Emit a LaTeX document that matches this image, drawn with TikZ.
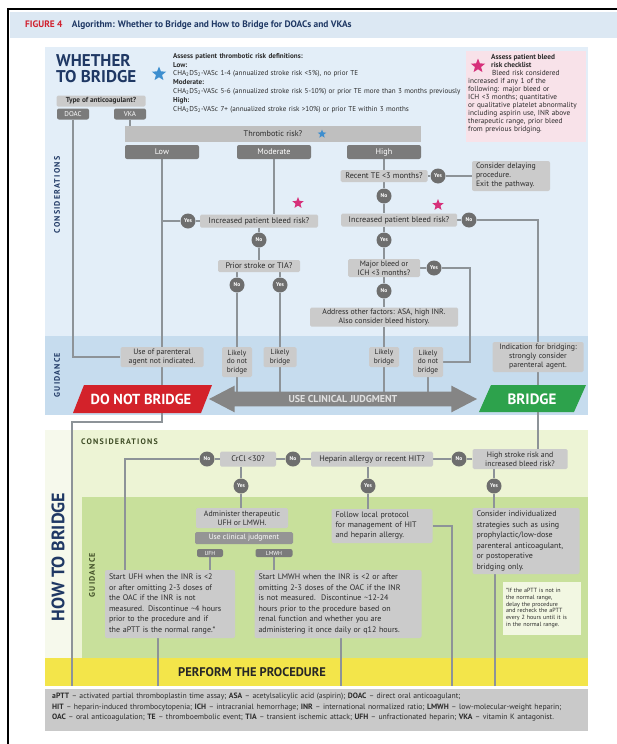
\documentclass[tikz,border=0pt]{standalone}
\usepackage{fontspec}
\setmainfont{PT Sans}
\newfontfamily\trackfont[LetterSpace=15]{PT Sans}
\usetikzlibrary{shapes,positioning}

\definecolor{ink}{HTML}{2B2B2B}
\definecolor{navy}{HTML}{1F3864}
\definecolor{titlered}{HTML}{D0202E}
\definecolor{headblue}{HTML}{DCE8F3}
\definecolor{paneblue}{HTML}{E3EEF8}
\definecolor{guideblue}{HTML}{C6DCEE}
\definecolor{pinkbg}{HTML}{F8E2E9}
\definecolor{boxgray}{HTML}{CBCBCB}
\definecolor{bargray}{HTML}{BFBFBF}
\definecolor{darkbox}{HTML}{7B7B7B}
\definecolor{circgray}{HTML}{6E6E6E}
\definecolor{wire}{HTML}{8D9398}
\definecolor{dnbred}{HTML}{D3222A}
\definecolor{brgreen}{HTML}{2DA24C}
\definecolor{arrowgray}{HTML}{858585}
\definecolor{greenlight}{HTML}{EDF4D5}
\definecolor{greenpale}{HTML}{F6F9EC}
\definecolor{greenguide}{HTML}{C8E09B}
\definecolor{procyellow}{HTML}{F3E54A}
\definecolor{legendgray}{HTML}{C9C9C9}
\definecolor{footbg}{HTML}{F2F7E2}
\definecolor{guidetext}{HTML}{3F4D26}
\definecolor{starblue}{HTML}{3D8ECF}
\definecolor{starpink}{HTML}{D6307A}

\newcommand{\fsz}[2]{\fontsize{#1}{#2}\selectfont}
\pgfdeclarelayer{panel}
\pgfdeclarelayer{wire}
\pgfsetlayers{panel,wire,main}

\begin{document}
\begin{tikzpicture}[x=1pt,y=-1pt]
\tikzstyle{every node}=[inner sep=1pt, text=ink, font=\fsz{8.2}{9.5}];
\tikzstyle{qbox}=[fill=boxgray, rounded corners=1.5pt, align=center];
\tikzstyle{textbox}=[fill=boxgray, rounded corners=2pt, align=left, inner xsep=4pt];
\tikzstyle{riskbox}=[fill=darkbox, text=white, rounded corners=2pt, minimum width=74pt, minimum height=14pt];
\tikzstyle{yesno}=[circle, fill=circgray, text=white, minimum size=15pt, inner sep=0pt, font=\fsz{5.5}{5.5}\bfseries];
\tikzstyle{link}=[draw=wire, line width=1.8pt];
\tikzstyle{sidelabel}=[rotate=90, font=\trackfont\fsz{8}{8}\bfseries, text=navy];
\tikzstyle{riskstar}=[star, star points=5, star point ratio=2.3, inner sep=0pt];

\useasboundingbox (0,0) rectangle (617,744);

\begin{pgfonlayer}{panel}
\fill[headblue] (10,12) rectangle (617,38);
\fill[paneblue] (45,47) rectangle (588,415);
\fill[guideblue] (45,336) rectangle (588,415);
\fill[pinkbg] (466,51) rectangle (586,142);
\fill[greenlight] (45,430) rectangle (588,686);
\fill[greenpale] (45,430) rectangle (71,686);
\fill[greenguide] (82,497) rectangle (588,658);
\fill[procyellow] (45,658) rectangle (588,686);
\fill[legendgray] (45,689) rectangle (588,731);
\draw[black, line width=2.5pt] (617,9) -- (8,9) -- (8,744);
\end{pgfonlayer}

\node[anchor=west, font=\fsz{9.4}{10}\bfseries, text=navy] (title) at (24,25)
  {\textcolor{titlered}{FIGURE 4}\quad Algorithm: Whether to Bridge and How to Bridge for DOACs and VKAs};

\node[anchor=north west, align=left, font=\fsz{17}{16}\bfseries, text=navy] (whether) at (55,53) {WHETHER\\TO BRIDGE};
\node[sidelabel] (considA) at (57,195) {CONSIDERATIONS};
\node[sidelabel] (guideA) at (57,375) {GUIDANCE};

\node[riskstar, fill=starblue, minimum size=15pt] (starA) at (159,74) {};
\node[anchor=north west, align=left, text width=330pt, font=\fsz{7.1}{8.8}] (defs) at (172,52)
  {\textbf{Assess patient thrombotic risk definitions:}\\
   \textbf{Low:}\\
   CHA\textsubscript{2}DS\textsubscript{2}-VASc 1-4 (annualized stroke risk <5\%), no prior TE\\
   \textbf{Moderate:}\\
   CHA\textsubscript{2}DS\textsubscript{2}-VASc 5-6 (annualized stroke risk 5-10\%) or prior TE more than 3 months previously\\
   \textbf{High:}\\
   CHA\textsubscript{2}DS\textsubscript{2}-VASc 7+ (annualized stroke risk >10\%) or prior TE within 3 months};

\node[riskstar, fill=starpink, minimum size=15pt] (starB) at (478,66) {};
\node[anchor=north west, align=left, font=\fsz{7.3}{8}\bfseries] (pinkhead) at (490,53) {Assess patient bleed\\risk checklist};
\node[anchor=north west, align=left, text width=118pt, font=\fsz{7.3}{8}] (pinkbody) at (467,69)
  {\hspace*{24pt}Bleed risk considered\\increased if any 1 of the\\following: major bleed or\\ICH <3 months; quantitative\\or qualitative platelet abnormality\\including aspirin use, INR above\\therapeutic range, prior bleed\\from previous bridging.};

\node[qbox, minimum width=89pt, minimum height=11pt, font=\fsz{7.3}{8}\bfseries] (type) at (101,101) {Type of anticoagulant?};
\node[riskbox, minimum width=32pt, minimum height=11pt, font=\fsz{7}{7}] (doac) at (73,114) {DOAC};
\node[riskbox, minimum width=32pt, minimum height=11pt, font=\fsz{7}{7}] (vka) at (130,114) {VKA};

\node[fill=bargray, minimum width=296pt, minimum height=16pt] (throm) at (273,134) {Thrombotic risk?};
\node[riskstar, fill=starblue, minimum size=9pt] (starC) at (322,134) {};
\node[riskbox] (low) at (162,152) {Low};
\node[riskbox] (moderate) at (274,152) {Moderate};
\node[riskbox] (high) at (384,152) {High};

\node[riskstar, fill=starpink, minimum size=12pt] (starD) at (298,203) {};
\node[qbox, minimum width=118pt, minimum height=13pt] (bleedm) at (259,221) {Increased patient bleed risk?};
\node[yesno] (ym1) at (188,221) {Yes};
\node[yesno] (nm1) at (259,240) {No};
\node[qbox, minimum width=82pt, minimum height=12pt] (prior) at (259,266) {Prior stroke or TIA?};
\node[yesno] (nm2) at (237,285) {No};
\node[yesno] (ym2) at (280,285) {Yes};

\node[qbox, minimum width=87pt, minimum height=12pt] (recent) at (384,176) {Recent TE <3 months?};
\node[yesno] (yh1) at (438,176) {Yes};
\node[textbox, text width=70pt, minimum height=30pt, font=\fsz{7.8}{9}] (delay) at (511,176) {Consider delaying\\procedure.\\Exit the pathway.};
\node[yesno] (nh1) at (384,196) {No};
\node[riskstar, fill=starpink, minimum size=12pt] (starE) at (438,205) {};
\node[qbox, minimum width=116pt, minimum height=13pt] (bleedh) at (399,220) {Increased patient bleed risk?};
\node[yesno] (nh2) at (469,220) {No};
\node[yesno] (yh2) at (384,240) {Yes};
\node[qbox, minimum width=72pt, minimum height=18pt, font=\fsz{7.8}{8.7}] (major) at (384,268) {Major bleed or\\ICH <3 months?};
\node[yesno] (yh3) at (434,268) {Yes};
\node[yesno] (nh3) at (384,291) {No};
\node[qbox, minimum width=148pt, minimum height=19pt, font=\fsz{7.8}{8.7}] (address) at (384,317) {Address other factors: ASA, high INR.\\Also consider bleed history.};

\node[qbox, minimum width=83pt, minimum height=20pt, font=\fsz{7.8}{8.7}] (noparen) at (162,357) {Use of parenteral\\agent not indicated.};
\node[qbox, minimum width=30pt, minimum height=30pt, font=\fsz{7.4}{8.7}] (ldnb1) at (237,362) {Likely\\do not\\bridge};
\node[qbox, minimum width=33pt, minimum height=20pt, font=\fsz{7.4}{8.7}] (lb1) at (280,357) {Likely\\bridge};
\node[qbox, minimum width=30pt, minimum height=20pt, font=\fsz{7.4}{8.7}] (lb2) at (384,357) {Likely\\bridge};
\node[qbox, minimum width=30pt, minimum height=30pt, font=\fsz{7.4}{8.7}] (ldnb2) at (428,362) {Likely\\do not\\bridge};
\node[qbox, text width=89pt, minimum height=30pt, font=\fsz{7.8}{9}] (indic) at (538,357) {Indication for bridging:\\strongly consider\\parenteral agent.};

\fill[dnbred] (84,385) -- (212,385) -- (201,413) -- (73,413) -- cycle;
\fill[brgreen] (491,385) -- (586,385) -- (574,412) -- (479,412) -- cycle;
\node[font=\fsz{14.5}{14.5}\bfseries, text=white] (nobridge) at (141,399) {DO NOT BRIDGE};
\node[double arrow, fill=arrowgray, minimum height=268pt, inner ysep=3.5pt, double arrow head extend=6pt,
      double arrow tip angle=55, font=\fsz{10}{10}\bfseries, text=black!12] (judge) at (343,399) {USE CLINICAL JUDGMENT};
\node[font=\fsz{15}{15}\bfseries, text=white] (bridge) at (532,399) {BRIDGE};

\node[sidelabel, font=\fsz{18}{18}\bfseries] (howto) at (58,557) {HOW TO BRIDGE};
\node[anchor=west, font=\trackfont\fsz{8}{8}\bfseries, text=guidetext] (considB) at (80,442) {CONSIDERATIONS};
\node[sidelabel, text=guidetext] (guideB) at (92,575) {GUIDANCE};

\node[yesno] (c1) at (207,459) {No};
\node[qbox, minimum width=56pt, minimum height=15pt] (crcl) at (248,459) {CrCl <30?};
\node[yesno] (c2) at (293,459) {No};
\node[qbox, minimum width=122pt, minimum height=15pt] (hep) at (372,459) {Heparin allergy or recent HIT?};
\node[yesno] (c3) at (459,459) {No};
\node[qbox, minimum width=95pt, minimum height=20pt, font=\fsz{7.8}{8.7}] (stroke) at (520,459) {High stroke risk and\\increased bleed risk?};
\node[yesno] (y1) at (241,486) {Yes};
\node[yesno] (y2) at (368,486) {Yes};
\node[yesno] (y3) at (494,486) {Yes};

\node[qbox, minimum width=92pt, minimum height=20pt, font=\fsz{7.8}{8.7}] (admin) at (242,518) {Administer therapeutic\\UFH or LMWH.};
\node[fill=darkbox!80, text=white, rounded corners=1.5pt, minimum width=98pt, minimum height=12pt, font=\fsz{7.6}{8}] (clin) at (244,538) {Use clinical judgment};
\node[riskbox, minimum width=26pt, minimum height=8pt, font=\fsz{5.8}{6}] (ufh) at (210,553) {UFH};
\node[riskbox, minimum width=37pt, minimum height=8pt, font=\fsz{5.8}{6}] (lmwh) at (274,553) {LMWH};

\node[textbox, text width=122pt, minimum height=68pt, font=\fsz{8}{10.5}] (ufhtext) at (170,604)
  {Start UFH when the INR is <2\\or after omitting 2-3 doses of\\the OAC if the INR is not\\measured. Discontinue \textasciitilde4 hours\\prior to the procedure and if\\the aPTT is the normal range.*};
\node[textbox, text width=159pt, minimum height=68pt, font=\fsz{8}{10.5}] (lmwhtext) at (338,604)
  {Start LMWH when the INR is <2 or after\\omitting 2-3 doses of the OAC if the INR\\is not measured.\ \ Discontinue \textasciitilde12-24\\hours prior to the procedure based on\\renal function and whether you are\\administering it once daily or q12 hours.};
\node[textbox, text width=93pt, minimum height=34pt, font=\fsz{8}{10}] (follow) at (382,526)
  {Follow local protocol\\for management of HIT\\and heparin allergy.};
\node[textbox, text width=99pt, minimum height=66pt, font=\fsz{8}{10.5}] (indiv) at (526,541)
  {Consider individualized\\strategies such as using\\prophylactic/low-dose\\parenteral anticoagulant,\\or postoperative\\bridging only.};
\node[fill=footbg, align=left, inner xsep=3pt, text width=72pt, minimum height=53pt, font=\fsz{6}{6.8}] (foot) at (542,608)
  {*If the aPTT is not in\\the normal range,\\delay the procedure\\and recheck the aPTT\\every 2 hours until it is\\in the normal range.};

\node[font=\fsz{12.5}{13}\bfseries, text=black!85] (perform) at (252,672) {PERFORM THE PROCEDURE};

\node[anchor=north west, align=left, text width=535pt, font=\fsz{7.7}{10.5}] (legend) at (51,692)
  {\textbf{aPTT} -- activated partial thromboplastin time assay; \textbf{ASA} -- acetylsalicylic acid (aspirin); \textbf{DOAC} -- direct oral anticoagulant;\\
   \textbf{HIT} -- heparin-induced thrombocytopenia; \textbf{ICH} -- intracranial hemorrhage; \textbf{INR} -- international normalized ratio; \textbf{LMWH} -- low-molecular-weight heparin;\\
   \textbf{OAC} -- oral anticoagulation; \textbf{TE} -- thromboembolic event; \textbf{TIA} -- transient ischemic attack; \textbf{UFH} -- unfractionated heparin; \textbf{VKA} -- vitamin K antagonist.};

\coordinate (turn0) at (162,422);
\coordinate (end0) at (72,686);
\coordinate (hook) at (470,268);
\coordinate (crclturn) at (125,459);
\coordinate (end1) at (158,686);
\coordinate (end2) at (341,686);
\coordinate (end3) at (452,686);
\coordinate (end4) at (495,686);

\begin{pgfonlayer}{wire}
\foreach \from/\to in {low/noparen, ym1/bleedm, bleedm/nm1, nm1/prior, nm2/ldnb1, ym2/lb1,
                       high/recent, recent/yh1, yh1/delay, recent/nh1, bleedh/nh2, yh2/major,
                       major/yh3, major/nh3, nh3/address, address/lb2,
                       stroke/c3, c3/hep, hep/c2, c2/crcl, crcl/c1}
  \draw[link] (\from) -- (\to);
\draw[link] (doac) |- (noparen);
\draw[link] (vka) -- (vka |- throm.north);
\draw[link] (noparen) -- (turn0) -| (end0);
\draw[link] (moderate) -- (moderate |- bleedm.north);
\draw[link] (ym1) -- (ym1 -| low);
\draw[link] (nm2 |- prior.south) -- (nm2);
\draw[link] (ym2 |- prior.south) -- (ym2);
\draw[link] (nh1) -- (nh1 |- bleedh.north);
\draw[link] (yh2 |- bleedh.south) -- (yh2);
\draw[link] (nh2) -| (indic);
\draw[link] (yh3) -- (hook) |- (ldnb2);
\foreach \from in {ldnb1, lb1, lb2, ldnb2}
  \draw[link] (\from) -- (\from |- judge);
\draw[link] (indic) -- (indic |- stroke.north);
\draw[link] (c1) -- (crclturn) -- (crclturn |- ufhtext.north);
\draw[link] (y1 |- crcl.south) -- (y1) -- (y1 |- admin.north);
\draw[link] (y2 |- hep.south) -- (y2) -- (y2 |- follow.north);
\draw[link] (y3 |- stroke.south) -- (y3) -- (y3 |- indiv.north);
\draw[link] (ufh) -- (ufh |- ufhtext.north);
\draw[link] (lmwh) -- (lmwh |- lmwhtext.north);
\draw[link] (end1 |- ufhtext.south) -- (end1);
\draw[link] (end2 |- lmwhtext.south) -- (end2);
\draw[link] (follow) -| (end3);
\draw[link] (end4 |- indiv.south) -- (end4);
\end{pgfonlayer}

\end{tikzpicture}
\end{document}
